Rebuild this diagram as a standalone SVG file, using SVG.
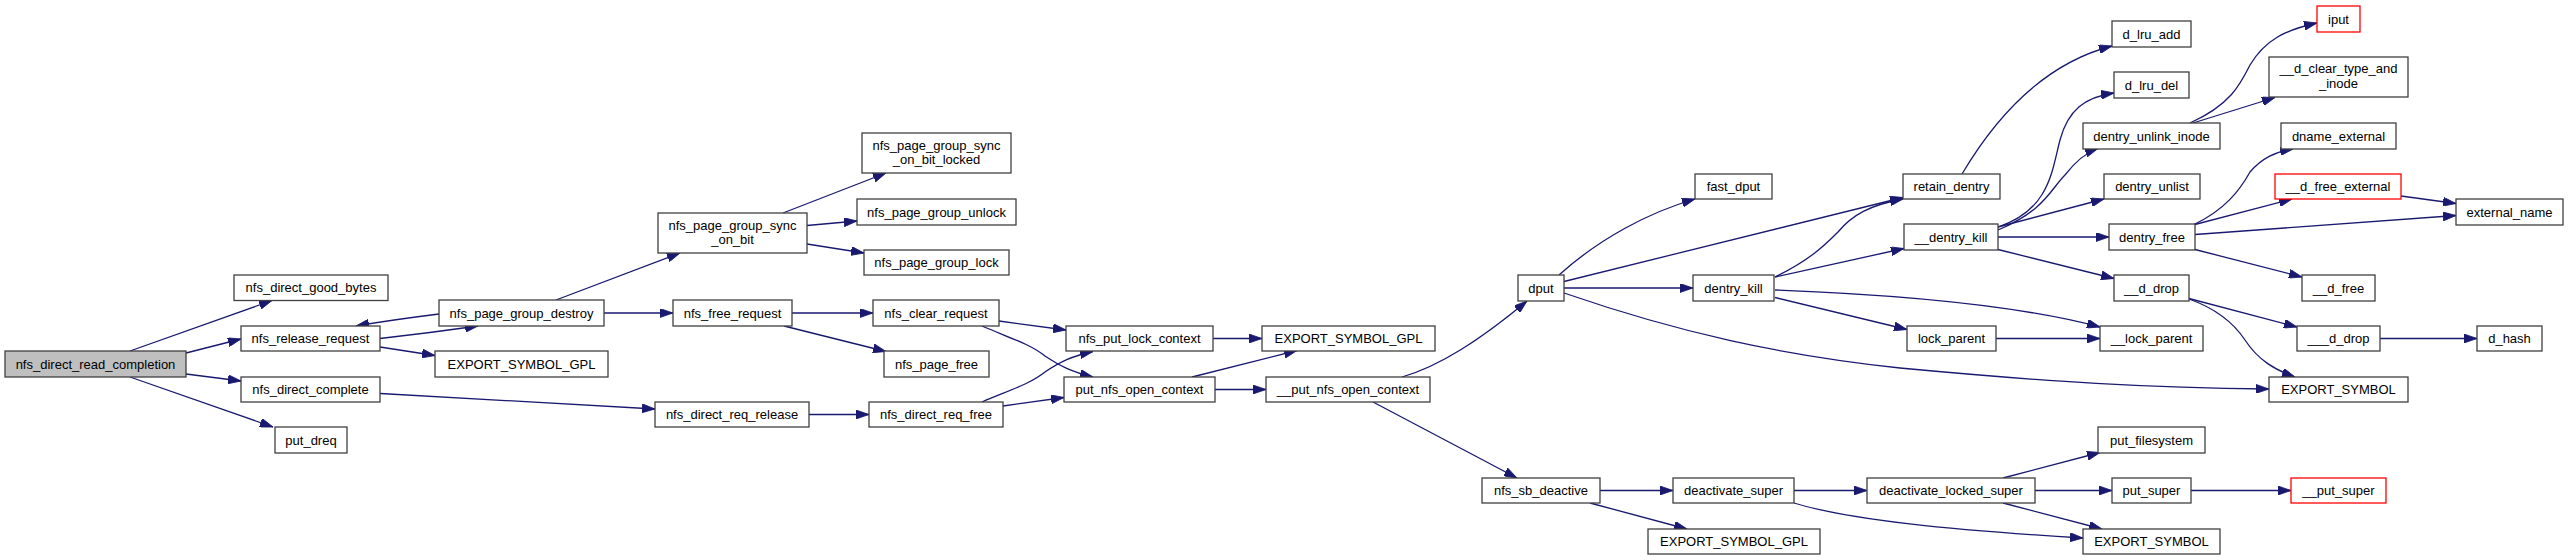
<svg xmlns="http://www.w3.org/2000/svg" width="2568" height="560" viewBox="0 0 2568 560">
<defs>
<style>
.n rect{fill:#ffffff;stroke:#404040;stroke-width:1.3}
.n.root rect{fill:#bfbfbf}
.n.red rect{stroke:#ff0000}
.n text{font-family:"Liberation Sans",Arial,sans-serif;font-size:13px;fill:#000000;text-anchor:middle}
.e path{fill:none;stroke:#191970;stroke-width:1.3;marker-end:url(#ah)}
</style>
<marker id="ah" viewBox="0 0 13 9" refX="13" refY="4.5" markerWidth="13" markerHeight="9" markerUnits="userSpaceOnUse" orient="auto">
<path d="M0,0 L13,4.5 L0,9 z" fill="#191970" stroke="#191970" stroke-width="0.8"/>
</marker>
</defs>
<rect x="0" y="0" width="2568" height="560" fill="#ffffff"/>
<g id="edges" class="e">
<path d="M130,351 L272,300.5"/>
<path d="M186,353 L241,339"/>
<path d="M186,374 L241,381"/>
<path d="M130,377 L273,427"/>
<path d="M380,338.5 C420,334 450,330 478,326"/>
<path d="M439,314 C415,317 385,321 356,326"/>
<path d="M380,347 L435,355.5"/>
<path d="M380,393.5 C480,399 580,405 655,409"/>
<path d="M556,300 L680,253"/>
<path d="M604,313 L673,313"/>
<path d="M783,213 L886,173"/>
<path d="M807,225.5 L857,221"/>
<path d="M807,244 L864,253"/>
<path d="M792,313 L873,313"/>
<path d="M784,326 L886,351.5"/>
<path d="M999,321 L1066,330"/>
<path d="M982,326 C1010,338 1030,344 1045,356 C1060,366 1072,372 1093,377"/>
<path d="M809,414.5 L869,414.5"/>
<path d="M982,402 C1010,390 1030,384 1045,372 C1060,362 1072,356 1093,351.5"/>
<path d="M1003,406 L1064,397.5"/>
<path d="M1213,338.5 L1262,338.5"/>
<path d="M1192,377 L1297,350.5"/>
<path d="M1215,389.5 L1266,389.5"/>
<path d="M1402,377 C1440,366 1480,340 1527,301"/>
<path d="M1373,402 L1517,478"/>
<path d="M1559,275 C1600,238 1650,212 1695,199"/>
<path d="M1564,281.5 L1903,197.5"/>
<path d="M1564,288 L1693,288"/>
<path d="M1564,293 C1680,333 1780,355 1900,368 C2050,382 2150,388 2269,389"/>
<path d="M1775,277 C1810,260 1825,245 1838,232 C1852,215 1870,205 1903,199"/>
<path d="M1775,277 L1904,248.5"/>
<path d="M1775,297.5 L1907,329.5"/>
<path d="M1775,290 C1880,294 2010,303 2100,327"/>
<path d="M1996,338.5 L2100,338.5"/>
<path d="M1962,174 C2000,110 2050,62 2112,46"/>
<path d="M1998,227 C2050,210 2052,170 2060,140 C2068,110 2085,97 2114,93"/>
<path d="M1998,230 C2045,210 2050,190 2065,175 C2075,162 2085,153 2098,148.5"/>
<path d="M1998,227 L2104,199"/>
<path d="M1998,237 L2109,237"/>
<path d="M1998,249.5 L2114,278.5"/>
<path d="M2190,123 C2230,105 2240,85 2250,65 C2265,40 2285,30 2317,23"/>
<path d="M2193,123 L2275,97.5"/>
<path d="M2193,225 C2225,210 2240,190 2250,172 C2262,158 2275,152 2293,149"/>
<path d="M2193,225 L2292,199"/>
<path d="M2195,234.5 L2456,215.5"/>
<path d="M2195,249.5 L2302,277"/>
<path d="M2401,196 L2456,203.5"/>
<path d="M2189,298.5 L2297,327"/>
<path d="M2189,299 C2220,310 2235,325 2245,340 C2258,360 2275,370 2295,377"/>
<path d="M2380,338.5 L2477,338.5"/>
<path d="M1600,490.5 L1673,490.5"/>
<path d="M1590,503 L1687,529"/>
<path d="M1794,490.5 L1867,490.5"/>
<path d="M1794,503 C1850,520 1950,530 2083,538"/>
<path d="M2003,478 L2100,452.5"/>
<path d="M2035,490.5 L2112,490.5"/>
<path d="M2003,503 L2102,529"/>
<path d="M2191,490.5 L2291,490.5"/>
</g>
<g id="n_root" class="n root"><rect x="5" y="351" width="181" height="26"/><text x="95.5" y="368.5">nfs_direct_read_completion</text></g>
<g id="n_good_bytes" class="n"><rect x="234" y="275" width="154" height="25.5"/><text x="311" y="292.3">nfs_direct_good_bytes</text></g>
<g id="n_release_request" class="n"><rect x="241" y="326" width="139" height="25"/><text x="310.5" y="343">nfs_release_request</text></g>
<g id="n_direct_complete" class="n"><rect x="241" y="377" width="139" height="25"/><text x="310.5" y="394">nfs_direct_complete</text></g>
<g id="n_put_dreq" class="n"><rect x="275" y="427" width="72" height="26"/><text x="311" y="444.5">put_dreq</text></g>
<g id="n_page_group_destroy" class="n"><rect x="439" y="300" width="165" height="26"/><text x="521.5" y="317.5">nfs_page_group_destroy</text></g>
<g id="n_esg1" class="n"><rect x="435" y="351" width="173" height="26"/><text x="521.5" y="368.5">EXPORT_SYMBOL_GPL</text></g>
<g id="n_sync_on_bit" class="n"><rect x="658" y="213" width="149" height="40"/><text x="732.5" y="229.5">nfs_page_group_sync</text><text x="732.5" y="244">_on_bit</text></g>
<g id="n_sync_locked" class="n"><rect x="862" y="133" width="149" height="40"/><text x="936.5" y="149.5">nfs_page_group_sync</text><text x="936.5" y="164">_on_bit_locked</text></g>
<g id="n_pg_unlock" class="n"><rect x="857" y="199" width="159" height="26"/><text x="936.5" y="216.5">nfs_page_group_unlock</text></g>
<g id="n_pg_lock" class="n"><rect x="864" y="250" width="145" height="25"/><text x="936.5" y="267">nfs_page_group_lock</text></g>
<g id="n_free_request" class="n"><rect x="673" y="300" width="119" height="26"/><text x="732.5" y="317.5">nfs_free_request</text></g>
<g id="n_clear_request" class="n"><rect x="873" y="300" width="126" height="26"/><text x="936" y="317.5">nfs_clear_request</text></g>
<g id="n_page_free" class="n"><rect x="884" y="351" width="105" height="26"/><text x="936.5" y="368.5">nfs_page_free</text></g>
<g id="n_req_release" class="n"><rect x="655" y="402" width="154" height="25"/><text x="732" y="419">nfs_direct_req_release</text></g>
<g id="n_req_free" class="n"><rect x="869" y="402" width="134" height="25"/><text x="936" y="419">nfs_direct_req_free</text></g>
<g id="n_put_lock_context" class="n"><rect x="1066" y="326" width="147" height="25"/><text x="1139.5" y="343">nfs_put_lock_context</text></g>
<g id="n_put_nfs_open_context" class="n"><rect x="1064" y="377" width="151" height="25"/><text x="1139.5" y="394">put_nfs_open_context</text></g>
<g id="n_esg2" class="n"><rect x="1262" y="326" width="173" height="25"/><text x="1348.5" y="343">EXPORT_SYMBOL_GPL</text></g>
<g id="n__put_nfs_open_context" class="n"><rect x="1266" y="377" width="164" height="25"/><text x="1348" y="394">__put_nfs_open_context</text></g>
<g id="n_dput" class="n"><rect x="1518" y="275" width="46" height="26"/><text x="1541" y="292.5">dput</text></g>
<g id="n_fast_dput" class="n"><rect x="1695" y="174" width="77" height="25"/><text x="1733.5" y="191">fast_dput</text></g>
<g id="n_retain_dentry" class="n"><rect x="1903" y="174" width="97" height="25"/><text x="1951.5" y="191">retain_dentry</text></g>
<g id="n_dentry_kill" class="n"><rect x="1693" y="275" width="81" height="26"/><text x="1733.5" y="292.5">dentry_kill</text></g>
<g id="n__dentry_kill" class="n"><rect x="1904" y="224" width="94" height="26"/><text x="1951" y="241.5">__dentry_kill</text></g>
<g id="n_lock_parent" class="n"><rect x="1907" y="326" width="89" height="25"/><text x="1951.5" y="343">lock_parent</text></g>
<g id="n__lock_parent" class="n"><rect x="2100" y="326" width="103" height="25"/><text x="2151.5" y="343">__lock_parent</text></g>
<g id="n_d_lru_add" class="n"><rect x="2112" y="21" width="79" height="26"/><text x="2151.5" y="38.5">d_lru_add</text></g>
<g id="n_d_lru_del" class="n"><rect x="2114" y="72" width="75" height="26"/><text x="2151.5" y="89.5">d_lru_del</text></g>
<g id="n_dentry_unlink_inode" class="n"><rect x="2083" y="123" width="137" height="26"/><text x="2151.5" y="140.5">dentry_unlink_inode</text></g>
<g id="n_dentry_unlist" class="n"><rect x="2104" y="174" width="96" height="25"/><text x="2152" y="191">dentry_unlist</text></g>
<g id="n_dentry_free" class="n"><rect x="2109" y="224" width="86" height="26"/><text x="2152" y="241.5">dentry_free</text></g>
<g id="n__d_drop" class="n"><rect x="2114" y="275" width="75" height="26"/><text x="2151.5" y="292.5">__d_drop</text></g>
<g id="n_iput" class="n red"><rect x="2317" y="6" width="43" height="26"/><text x="2338.5" y="23.5">iput</text></g>
<g id="n__d_clear_type_and_inode" class="n"><rect x="2269" y="57" width="139" height="40"/><text x="2338.5" y="73">__d_clear_type_and</text><text x="2338.5" y="88">_inode</text></g>
<g id="n_dname_external" class="n"><rect x="2281" y="123" width="115" height="26"/><text x="2338.5" y="140.5">dname_external</text></g>
<g id="n__d_free_external" class="n red"><rect x="2275" y="174" width="126" height="25"/><text x="2338" y="191">__d_free_external</text></g>
<g id="n_external_name" class="n"><rect x="2456" y="199" width="107" height="26"/><text x="2509.5" y="216.5">external_name</text></g>
<g id="n__d_free" class="n"><rect x="2302" y="275" width="73" height="26"/><text x="2338.5" y="292.5">__d_free</text></g>
<g id="n___d_drop" class="n"><rect x="2297" y="326" width="83" height="25"/><text x="2338.5" y="343">___d_drop</text></g>
<g id="n_d_hash" class="n"><rect x="2477" y="326" width="65" height="25"/><text x="2509.5" y="343">d_hash</text></g>
<g id="n_es1" class="n"><rect x="2269" y="377" width="139" height="25"/><text x="2338.5" y="394">EXPORT_SYMBOL</text></g>
<g id="n_nfs_sb_deactive" class="n"><rect x="1482" y="478" width="118" height="25"/><text x="1541" y="495">nfs_sb_deactive</text></g>
<g id="n_esg3" class="n"><rect x="1648" y="529" width="172" height="25"/><text x="1734" y="546">EXPORT_SYMBOL_GPL</text></g>
<g id="n_deactivate_super" class="n"><rect x="1673" y="478" width="121" height="25"/><text x="1733.5" y="495">deactivate_super</text></g>
<g id="n_deactivate_locked_super" class="n"><rect x="1867" y="478" width="168" height="25"/><text x="1951" y="495">deactivate_locked_super</text></g>
<g id="n_put_filesystem" class="n"><rect x="2098" y="427" width="107" height="26"/><text x="2151.5" y="444.5">put_filesystem</text></g>
<g id="n_put_super" class="n"><rect x="2112" y="478" width="79" height="25"/><text x="2151.5" y="495">put_super</text></g>
<g id="n__put_super" class="n red"><rect x="2291" y="478" width="95" height="25"/><text x="2338.5" y="495">__put_super</text></g>
<g id="n_es2" class="n"><rect x="2083" y="529" width="137" height="25"/><text x="2151.5" y="546">EXPORT_SYMBOL</text></g>
</svg>
